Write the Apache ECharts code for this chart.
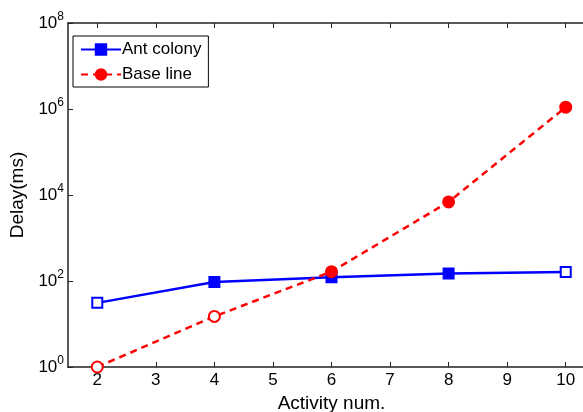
<!DOCTYPE html>
<html>
<head>
<meta charset="utf-8">
<script src="https://cdn.jsdelivr.net/npm/echarts@6/dist/echarts.min.js"></script>
<style>
  html, body { margin: 0; padding: 0; background: #fff; }
  #chart { width: 583px; height: 412px; }
</style>
</head>
<body>
<div id="chart"></div>
<script>
// values
const activityNum = [2, 4, 6, 8, 10]
const antColony = [31, 95, 122, 150, 162]
const baseLine = [1, 15, 165, 6900, 1100000]
const xTicks = [2, 3, 4, 5, 6, 7, 8, 9, 10]

// points drawn as open markers in the original
const antOpen = [0, 4]
const baseOpen = [0, 1]

const font = 'Liberation Sans, Arial, sans-serif'

const chart = echarts.init(document.getElementById('chart'))

const pts = (ys, open, emptySym) => activityNum.map((x, i) =>
  open.includes(i) ? { value: [x, ys[i]], symbol: emptySym } : [x, ys[i]])

const supLabel = v => {
  const e = Math.round(Math.log10(v))
  return '{b|10}{s|' + e + '}'
}

chart.setOption({
  animation: false,
  textStyle: { fontFamily: font },
  grid: { left: 68, top: 23, right: -12, bottom: 45, containLabel: false, outerBoundsMode: 'none' },
  legend: {
    left: 73, top: 36, orient: 'vertical',
    backgroundColor: '#fff', borderColor: '#000', borderWidth: 1,
    padding: [5, 7, 4, 7], itemGap: 8, itemWidth: 40, itemHeight: 13,
    textStyle: { fontSize: 17, color: '#000', fontFamily: font, padding: [0, 0, 0, -4] },
    data: ['Ant colony', 'Base line']
  },
  xAxis: [{
    type: 'value', min: 1.5, max: 10.5,
    name: 'Activity num.', nameLocation: 'middle', nameGap: 23,
    nameTextStyle: { fontSize: 19, color: '#000' },
    axisLine: { lineStyle: { color: '#222', width: 1.5 } },
    axisTick: { inside: true, length: 5, customValues: xTicks, lineStyle: { color: '#222' } },
    axisLabel: { fontSize: 17, color: '#000', margin: 5, customValues: xTicks },
    splitLine: { show: false }
  }, {
    type: 'value', min: 1.5, max: 10.5, position: 'top',
    axisLine: { lineStyle: { color: '#222', width: 1.5 } },
    axisTick: { inside: true, length: 5, customValues: xTicks, lineStyle: { color: '#222' } },
    axisLabel: { show: false }, splitLine: { show: false }
  }],
  yAxis: {
    type: 'log', logBase: 10, min: 1, max: 1e8, interval: 2,
    name: 'Delay(ms)', nameLocation: 'middle', nameGap: 35,
    nameTextStyle: { fontSize: 19, color: '#000' },
    axisLine: { show: true, lineStyle: { color: '#222', width: 1.5 } },
    axisTick: { inside: true, length: 5, lineStyle: { color: '#222' } },
    axisLabel: {
      margin: 4, formatter: supLabel,
      rich: {
        b: { fontSize: 17, color: '#000', fontFamily: font },
        s: { fontSize: 12, color: '#000', fontFamily: font, verticalAlign: 'top', padding: [0, 0, 12, 0] }
      }
    },
    splitLine: { show: false }
  },
  series: [{
    name: 'Ant colony', type: 'line', data: pts(antColony, antOpen, 'emptyRect'),
    symbol: 'rect', symbolSize: 10,
    lineStyle: { color: '#0000ff', width: 2.5 },
    itemStyle: { color: '#0000ff', borderColor: '#0000ff', borderWidth: 2 }
  }, {
    name: 'Base line', type: 'line', data: pts(baseLine, baseOpen, 'emptyCircle'),
    symbol: 'circle', symbolSize: 11,
    lineStyle: { color: '#ff0000', width: 2.5, type: [7, 5] },
    itemStyle: { color: '#ff0000', borderColor: '#ff0000', borderWidth: 2 }
  }]
})
</script>
</body>
</html>
